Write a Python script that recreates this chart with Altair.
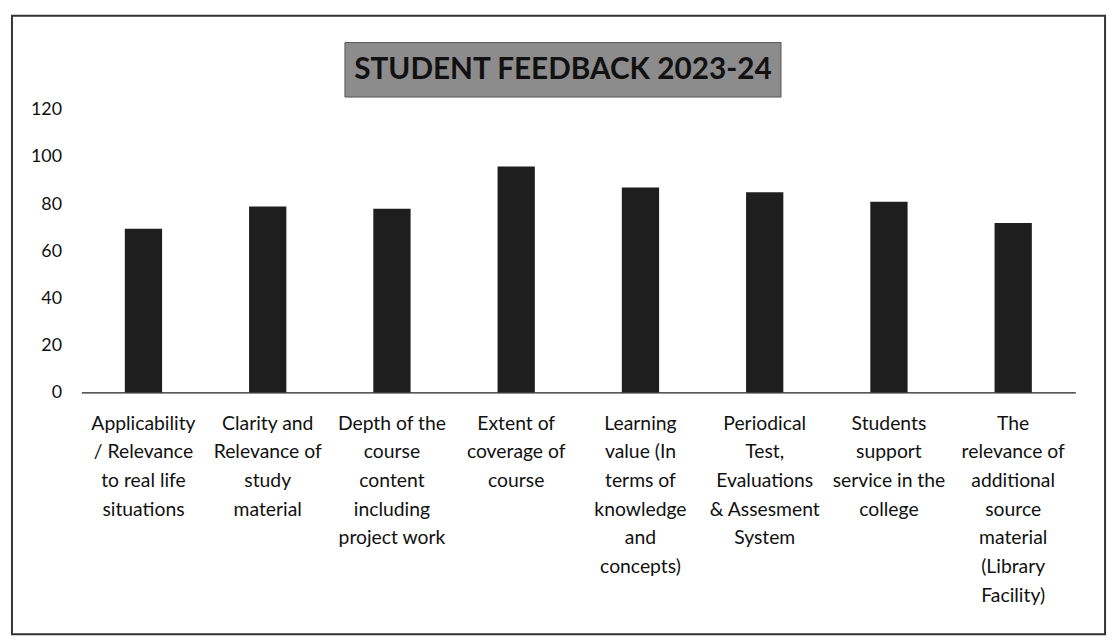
import altair as alt
import pandas as pd

categories = [
    "Applicability|/ Relevance|to real life|situations",
    "Clarity and|Relevance of|study|material",
    "Depth of the|course|content|including|project work",
    "Extent of|coverage of|course",
    "Learning|value (In|terms of|knowledge|and|concepts)",
    "Periodical|Test,|Evaluations|& Assesment|System",
    "Students|support|service in the|college",
    "The|relevance of|additional|source|material|(Library|Facility)",
]
values = [69.5, 79, 78, 96, 87, 85, 81, 72]
title_text = "STUDENT FEEDBACK 2023-24"
y_ticks = [0, 20, 40, 60, 80, 100, 120]

df = pd.DataFrame({"cat": categories, "val": values})

FONT = "Lato"

bars = alt.Chart(df).mark_bar(color="#1e1e1e").encode(
    x=alt.X(
        "cat:N",
        sort=categories,
        title=None,
        scale=alt.Scale(paddingInner=0.7, paddingOuter=0.35),
        axis=alt.Axis(
            labelAngle=0,
            labelLimit=0,
            labelExpr="split(datum.value, '|')",
            labelFontSize=19.5,
            labelLineHeight=29,
            labelPadding=22,
            labelColor="#111111",
            labelFont=FONT,
            ticks=False,
            domainColor="#222222",
            domainWidth=1.5,
            labelBaseline="top",
        ),
    ),
    y=alt.Y(
        "val:Q",
        title=None,
        scale=alt.Scale(domain=[0, 120], nice=False),
        axis=alt.Axis(
            values=y_ticks,
            domain=False,
            ticks=False,
            grid=False,
            labelFontSize=18,
            labelPadding=20,
            labelColor="#111111",
            labelFont=FONT,
        ),
    ),
)

deco = pd.DataFrame({"t": [title_text]})

title_box = alt.Chart(deco).mark_rect(
    fill="#8c8c8c", stroke="#555555", strokeWidth=1, clip=False
).encode(
    x=alt.value(266), x2=alt.value(706), y=alt.value(-68), y2=alt.value(-13)
)

title = alt.Chart(deco).mark_text(
    font=FONT, fontSize=30, fontWeight="bold", color="#111111",
    align="center", baseline="middle", clip=False
).encode(
    text="t:N", x=alt.value(486), y=alt.value(-40)
)

border = alt.Chart(deco).mark_rect(
    fill=None, fillOpacity=0, stroke="#333333", strokeWidth=2, clip=False
).encode(
    x=alt.value(-70), x2=alt.value(1033), y=alt.value(-95), y2=alt.value(529)
)

chart = alt.layer(border, bars, title_box, title).properties(
    width=1003,
    height=285,
    autosize=alt.AutoSizeParams(type="none"),
    padding={"left": 74, "top": 100, "right": 36, "bottom": 247},
    background="white",
).configure_view(stroke=None)

chart.save("out.html", embed_options={"renderer": "svg", "actions": False})
